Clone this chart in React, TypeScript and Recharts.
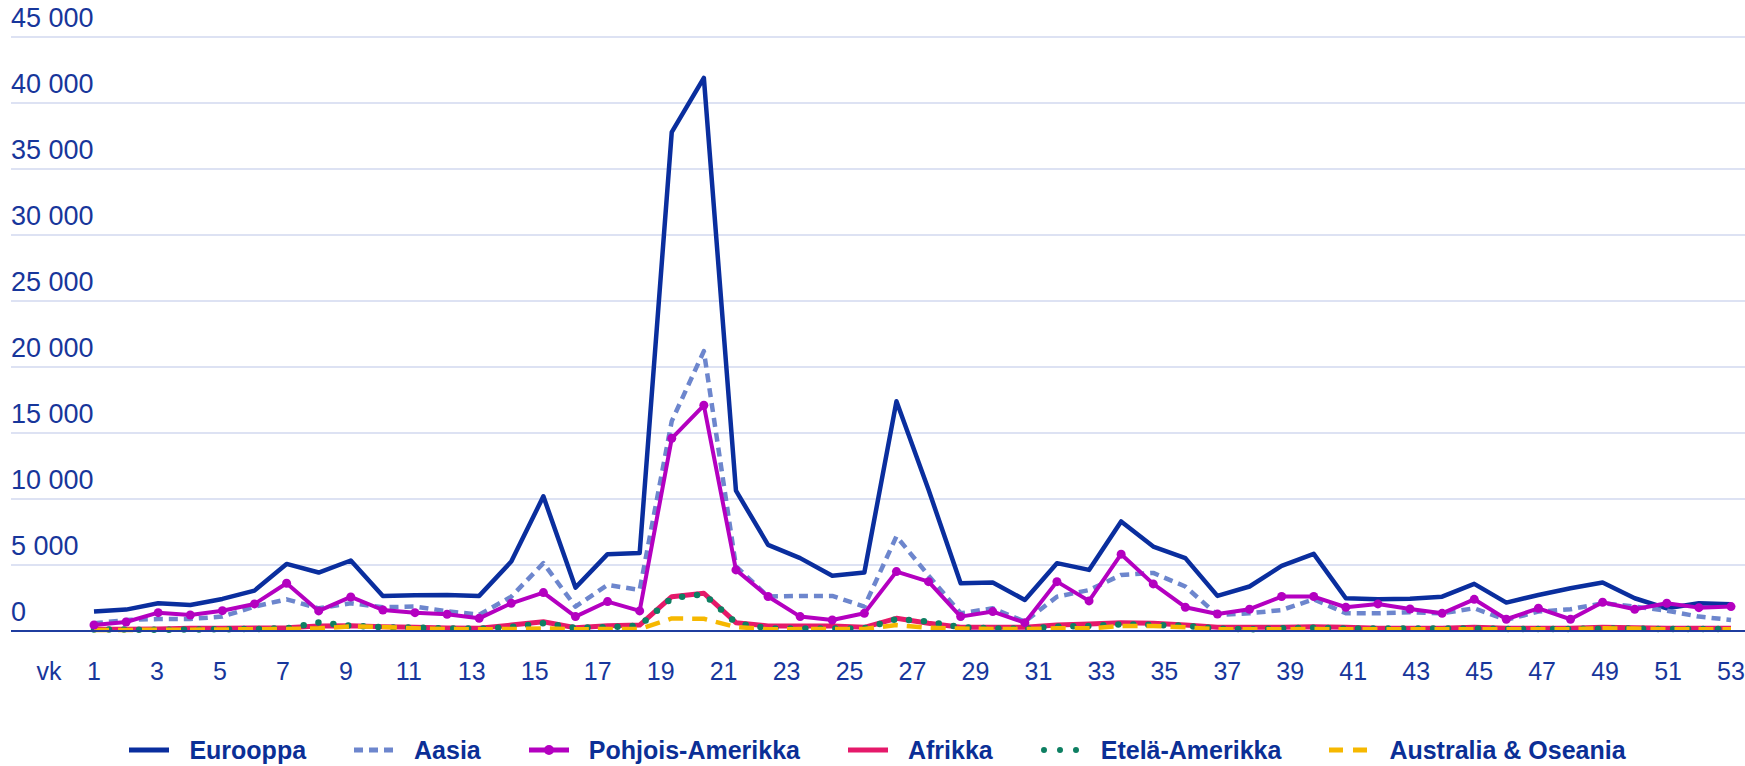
import React from 'react';
import { LineChart, Line, XAxis, YAxis, CartesianGrid, Legend } from 'recharts';

// viikot 1–52 (datapisteet), akselin tekstit 1–53
const weeks = [
  1, 2, 3, 4, 5, 6, 7, 8, 9, 10, 11, 12, 13, 14, 15, 16, 17, 18, 19, 20, 21, 22, 23, 24, 25, 26,
  27, 28, 29, 30, 31, 32, 33, 34, 35, 36, 37, 38, 39, 40, 41, 42, 43, 44, 45, 46, 47, 48, 49, 50, 51, 52,
];
const weekTicks = [1, 3, 5, 7, 9, 11, 13, 15, 17, 19, 21, 23, 25, 27, 29, 31, 33, 35, 37, 39, 41, 43, 45, 47, 49, 51, 53];
const valueTicks = [0, 5000, 10000, 15000, 20000, 25000, 30000, 35000, 40000, 45000];

const eurooppa = [
  1470, 1620, 2100, 1970, 2430, 3060, 5080, 4430, 5340, 2660, 2710, 2730, 2660, 5260, 10200, 3290, 5820, 5900,
  37800, 41900, 10630, 6530, 5520, 4180, 4430, 17400, 10700, 3620, 3670, 2350, 5140, 4630, 8300, 6400, 5520,
  2660, 3370, 4930, 5840, 2480, 2400, 2450, 2600, 3570, 2150, 2730, 3240, 3670, 2480, 1720, 2100, 2020,
];
const aasia = [
  580, 830, 910, 910, 1090, 1850, 2400, 1720, 2100, 1800, 1850, 1500, 1230, 2600, 5140, 1850, 3490, 3110,
  15900, 21200, 4900, 2610, 2660, 2660, 1850, 7170, 4200, 1340, 1720, 700, 2600, 3100, 4250, 4400, 3370,
  1210, 1340, 1590, 2400, 1340, 1340, 1420, 1340, 1720, 840, 1470, 1650, 2100, 1850, 1540, 1090, 840,
];
const pohjoisAmerikka = [
  455, 680, 1390, 1210, 1540, 2050, 3620, 1520, 2580, 1590, 1390, 1265, 960, 2100, 2910, 1090, 2230, 1520,
  14600, 17100, 4630, 2610, 1090, 835, 1340, 4500, 3740, 1090, 1470, 630, 3740, 2280, 5820, 3570, 1800,
  1290, 1650, 2610, 2610, 1800, 2050, 1670, 1340, 2400, 890, 1720, 890, 2180, 1650, 2100, 1770, 1850,
];
const afrikka = [
  130, 130, 150, 200, 200, 220, 250, 380, 400, 330, 280, 220, 200, 450, 700, 250, 400, 450,
  2600, 2860, 630, 380, 380, 380, 280, 960, 580, 280, 280, 280, 450, 530, 630, 580, 450,
  280, 280, 280, 330, 280, 200, 200, 200, 280, 200, 200, 200, 280, 250, 200, 200, 200,
];
const etelaAmerikka = [
  120, 120, 80, 120, 130, 150, 200, 650, 400, 280, 250, 200, 180, 300, 600, 230, 300, 400,
  2500, 2800, 600, 200, 180, 180, 200, 910, 700, 280, 200, 180, 330, 380, 500, 460, 400,
  180, 130, 200, 250, 180, 180, 180, 180, 200, 150, 150, 150, 180, 180, 150, 150, 150,
];
const australia = [
  80, 80, 100, 100, 120, 130, 150, 200, 350, 300, 200, 150, 130, 150, 200, 130, 150, 150,
  950, 930, 300, 130, 150, 150, 150, 450, 250, 180, 150, 150, 200, 200, 380, 380, 280,
  130, 130, 130, 150, 130, 130, 130, 130, 130, 130, 130, 130, 200, 180, 130, 130, 130,
];

const data = weeks.map((week, i) => ({
  week,
  eurooppa: eurooppa[i],
  aasia: aasia[i],
  pohjoisAmerikka: pohjoisAmerikka[i],
  afrikka: afrikka[i],
  etelaAmerikka: etelaAmerikka[i],
  australia: australia[i],
}));

const FONT = '"Liberation Sans", Arial, sans-serif';
const TEXT = '#17369b';

const series = [
  { key: 'eurooppa', name: 'Eurooppa', color: '#0a2e9e', width: 4.5, dash: undefined, cap: 'butt', dot: false },
  { key: 'aasia', name: 'Aasia', color: '#6d86cd', width: 4.5, dash: '9 6', cap: 'butt', dot: false },
  { key: 'pohjoisAmerikka', name: 'Pohjois-Amerikka', color: '#b400c0', width: 4, dash: undefined, cap: 'butt', dot: true },
  { key: 'afrikka', name: 'Afrikka', color: '#e5196a', width: 5, dash: undefined, cap: 'butt', dot: false },
  { key: 'etelaAmerikka', name: 'Etelä-Amerikka', color: '#0e7f62', width: 6.5, dash: '0 15', cap: 'round', dot: false },
  { key: 'australia', name: 'Australia & Oseania', color: '#f6b800', width: 4.5, dash: '15 9', cap: 'butt', dot: false },
];

const fmt = (v: number) => String(v).replace(/\B(?=(\d{3})+(?!\d))/g, ' ');

const ValueTick = (props: any) => {
  const { y, payload } = props;
  return (
    <text x={11} y={y - 10} fill={TEXT} fontSize={27} fontFamily={FONT} textAnchor="start">
      {fmt(payload.value)}
    </text>
  );
};

const WeekTick = (props: any) => {
  const { x, y, payload } = props;
  return (
    <g>
      {payload.value === 1 && (
        <text x={x - 45} y={y + 49} textAnchor="middle" fill={TEXT} fontSize={25} fontFamily={FONT}>vk</text>
      )}
      <text x={x} y={y + 49} textAnchor="middle" fill={TEXT} fontSize={25} fontFamily={FONT}>
        {payload.value}
      </text>
    </g>
  );
};

const LegendIcon: React.FC<{ s: typeof series[number] }> = ({ s }) => (
  <svg width={40} height={14} style={{ display: 'block' }}>
    <line
      x1={s.cap === 'round' ? 3 : 0}
      y1={7}
      x2={40}
      y2={7}
      stroke={s.color}
      strokeWidth={s.cap === 'round' ? 6 : 5}
      strokeDasharray={s.dash ? (s.cap === 'round' ? '0 16' : s.key === 'australia' ? '14 10' : '9 6') : undefined}
      strokeLinecap={s.cap as any}
    />
    {s.dot && <circle cx={20} cy={7} r={5} fill={s.color} />}
  </svg>
);

const renderLegend = () => (
  <div
    style={{
      display: 'flex',
      justifyContent: 'center',
      alignItems: 'center',
      height: 50,
      paddingTop: 18,
      boxSizing: 'border-box',
      fontFamily: FONT,
    }}
  >
    {series.map((s, i) => (
      <div key={s.key} style={{ display: 'flex', alignItems: 'center', marginLeft: i === 0 ? 0 : 48 }}>
        <LegendIcon s={s} />
        <span style={{ marginLeft: 20, fontSize: 25, fontWeight: 'bold', color: '#0b2f96', lineHeight: '30px' }}>
          {s.name}
        </span>
      </div>
    ))}
  </div>
);

export default function App() {
  return (
    <div style={{ position: 'absolute', left: 0, top: 0, width: 1745, height: 766, background: '#fff' }}>
      <LineChart width={1745} height={766} data={data} margin={{ top: 37, right: 0, bottom: 0, left: 10 }}>
        <CartesianGrid xAxisId="labels" vertical={false} stroke="#dde2f3" strokeWidth={2} />
        <XAxis
          xAxisId="data"
          dataKey="week"
          type="number"
          domain={[1, 52]}
          hide
          height={0}
          padding={{ left: 83, right: 14 }}
        />
        <XAxis
          xAxisId="labels"
          dataKey="week"
          type="number"
          domain={[1, 53]}
          allowDataOverflow
          ticks={weekTicks}
          interval={0}
          height={85}
          padding={{ left: 83, right: 14 }}
          axisLine={{ stroke: '#1f3d9f', strokeWidth: 2 }}
          tickLine={false}
          tickSize={0}
          tickMargin={0}
          tick={<WeekTick />}
        />
        <YAxis
          domain={[0, 45000]}
          ticks={valueTicks}
          interval={0}
          width={1}
          axisLine={false}
          tickLine={false}
          tick={<ValueTick />}
        />
        <Legend verticalAlign="bottom" height={50} content={renderLegend} />
        {series.map((s) => (
          <Line
            key={s.key}
            xAxisId="data"
            type="linear"
            dataKey={s.key}
            name={s.name}
            stroke={s.color}
            strokeWidth={s.width}
            strokeDasharray={s.dash}
            strokeLinecap={s.cap as any}
            strokeLinejoin="round"
            dot={s.dot ? { r: 4.5, fill: s.color, stroke: s.color, strokeWidth: 0 } : false}
            activeDot={false}
            isAnimationActive={false}
          />
        ))}
      </LineChart>
    </div>
  );
}
